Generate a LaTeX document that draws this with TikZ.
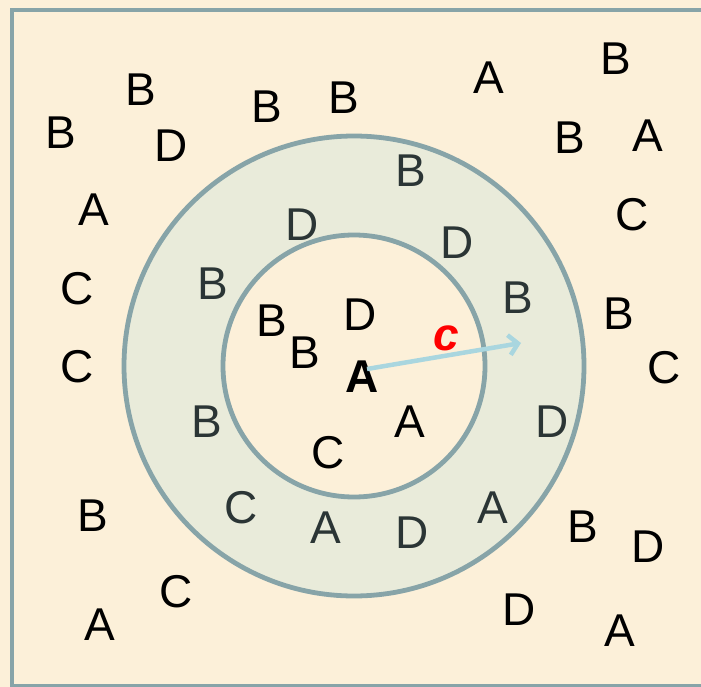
\documentclass[tikz,border=0pt]{standalone}
\usepackage{fontspec}
\setmainfont{Liberation Sans}
\usetikzlibrary{arrows.meta}
\definecolor{bgcream}{HTML}{FCF0D9}
\definecolor{framecol}{HTML}{87A4A8}
\definecolor{ringfill}{HTML}{E9EBDA}
\definecolor{ringtext}{HTML}{2B3535}
\definecolor{arrowcol}{HTML}{A9D6DF}
\begin{document}
\begin{tikzpicture}[x=1pt,y=-1pt,
  lt/.style={inner sep=0pt,font=\fontsize{46}{50}\selectfont,text=black},
  rt/.style={lt,text=ringtext},
  ringline/.style={draw=framecol,line width=4.8pt}]
\useasboundingbox (0,0) rectangle (701,687);
\fill[bgcream] (0,0) rectangle (701,687);
\begin{scope}
\clip (0,0) rectangle (701,687);
\draw[framecol,line width=4pt] (12,10) rectangle (740,686);
\end{scope}
\coordinate (ctr) at (354,366);
\draw[ringline,fill=ringfill] (ctr) circle[radius=230];
\draw[ringline,fill=bgcream] (ctr) circle[radius=131];
% outside letters
\node[lt] (o1) at (141,90) {B};
\node[lt] (o2) at (61,133) {B};
\node[lt] (o3) at (171,146) {D};
\node[lt] (o4) at (267,107) {B};
\node[lt] (o5) at (344,98) {B};
\node[lt] (o6) at (489,78) {A};
\node[lt] (o7) at (616,59) {B};
\node[lt] (o8) at (570,138) {B};
\node[lt] (o9) at (648,136) {A};
\node[lt] (o10) at (94,210) {A};
\node[lt] (o11) at (632,215) {C};
\node[lt] (o12) at (77,289) {C};
\node[lt] (o13) at (619,314) {B};
\node[lt] (o14) at (77,367) {C};
\node[lt] (o15) at (664,368) {C};
\node[lt] (o16) at (93,516) {B};
\node[lt] (o17) at (176,592) {C};
\node[lt] (o18) at (100,625) {A};
\node[lt] (o19) at (583,527) {B};
\node[lt] (o20) at (648,547) {D};
\node[lt] (o21) at (519,610) {D};
\node[lt] (o22) at (620,631) {A};
% ring letters
\node[rt] (r1) at (411,171) {B};
\node[rt] (r2) at (302,225) {D};
\node[rt] (r3) at (457,243) {D};
\node[rt] (r4) at (213,284) {B};
\node[rt] (r5) at (518,298) {B};
\node[rt] (r6) at (207,422) {B};
\node[rt] (r7) at (552,422) {D};
\node[rt] (r8) at (241,508) {C};
\node[rt] (r9) at (326,528) {A};
\node[rt] (r10) at (412,533) {D};
\node[rt] (r11) at (493,508) {A};
% inner letters
\node[lt] (i1) at (272,321) {B};
\node[lt] (i2) at (305,353) {B};
\node[lt] (i3) at (360,315) {D};
\node[lt] (i4) at (410,422) {A};
\node[lt] (i5) at (328,453) {C};
\node[lt,font=\fontsize{46}{50}\selectfont\bfseries] (cA) at (362,377) {A};
% arrow
\coordinate (astart) at (367,369);
\coordinate (aend) at (521,343);
\draw[arrowcol,line width=4.5pt,-{Straight Barb[length=9pt,width=20pt]}] (astart) -- (aend);
\node[lt,text=red,font=\fontsize{46}{50}\selectfont\bfseries\itshape] (clab) at (446,338) {c};
\end{tikzpicture}
\end{document}
